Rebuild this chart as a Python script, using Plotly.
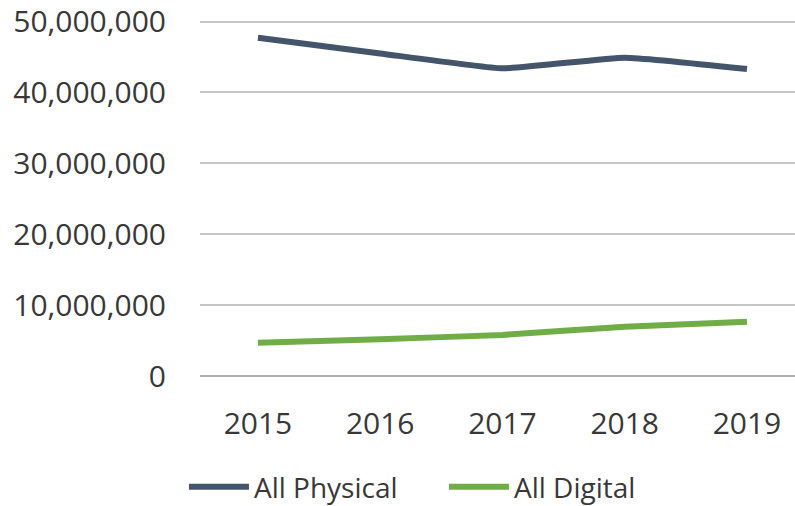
import plotly.graph_objects as go

years = ["2015", "2016", "2017", "2018", "2019"]
all_physical = [47700000, 45500000, 43400000, 44900000, 43300000]
all_digital = [4700000, 5200000, 5800000, 6950000, 7650000]
y_ticks = [0, 10000000, 20000000, 30000000, 40000000, 50000000]
y_tick_labels = ["0", "10,000,000", "20,000,000", "30,000,000", "40,000,000", "50,000,000"]

FONT = "Open Sans"
TXT = "#383838"

fig = go.Figure()
fig.add_trace(go.Scatter(x=years, y=all_physical, name="All Physical", mode="lines",
                         line=dict(color="#44546A", width=6, shape="spline", smoothing=0.4)))
fig.add_trace(go.Scatter(x=years, y=all_digital, name="All Digital", mode="lines",
                         line=dict(color="#70AD47", width=6, shape="spline", smoothing=0.4)))

fig.update_layout(
    width=795, height=506,
    margin=dict(l=200, r=0, t=17.5, b=130, autoexpand=False),
    paper_bgcolor="white", plot_bgcolor="white",
    font=dict(family=FONT, size=30, color=TXT),
    showlegend=True,
    legend=dict(orientation="h", x=0.41, xanchor="center", y=-0.31, yanchor="middle",
                font=dict(family=FONT, size=28, color=TXT), itemwidth=60,
                entrywidth=185, entrywidthmode="pixels",
                traceorder="normal", tracegroupgap=0, bgcolor="rgba(0,0,0,0)"),
    xaxis=dict(type="category", range=[-0.474, 4.393], showgrid=False, automargin=False,
               showline=False, zeroline=False, ticks="", ticklabelstandoff=27,
               tickfont=dict(family=FONT, size=30, color=TXT)),
    yaxis=dict(range=[0, 50500000], tickvals=y_ticks, ticktext=y_tick_labels, automargin=False,
               showgrid=True, gridcolor="#C6C6C6", gridwidth=2,
               zeroline=True, zerolinecolor="#B0B0B0", zerolinewidth=2,
               showline=False, ticks="", ticklabelstandoff=33,
               tickfont=dict(family=FONT, size=30, color=TXT)),
)

fig.write_html("out.html", config={"displayModeBar": False},
               post_script="document.body.style.margin='0';")
